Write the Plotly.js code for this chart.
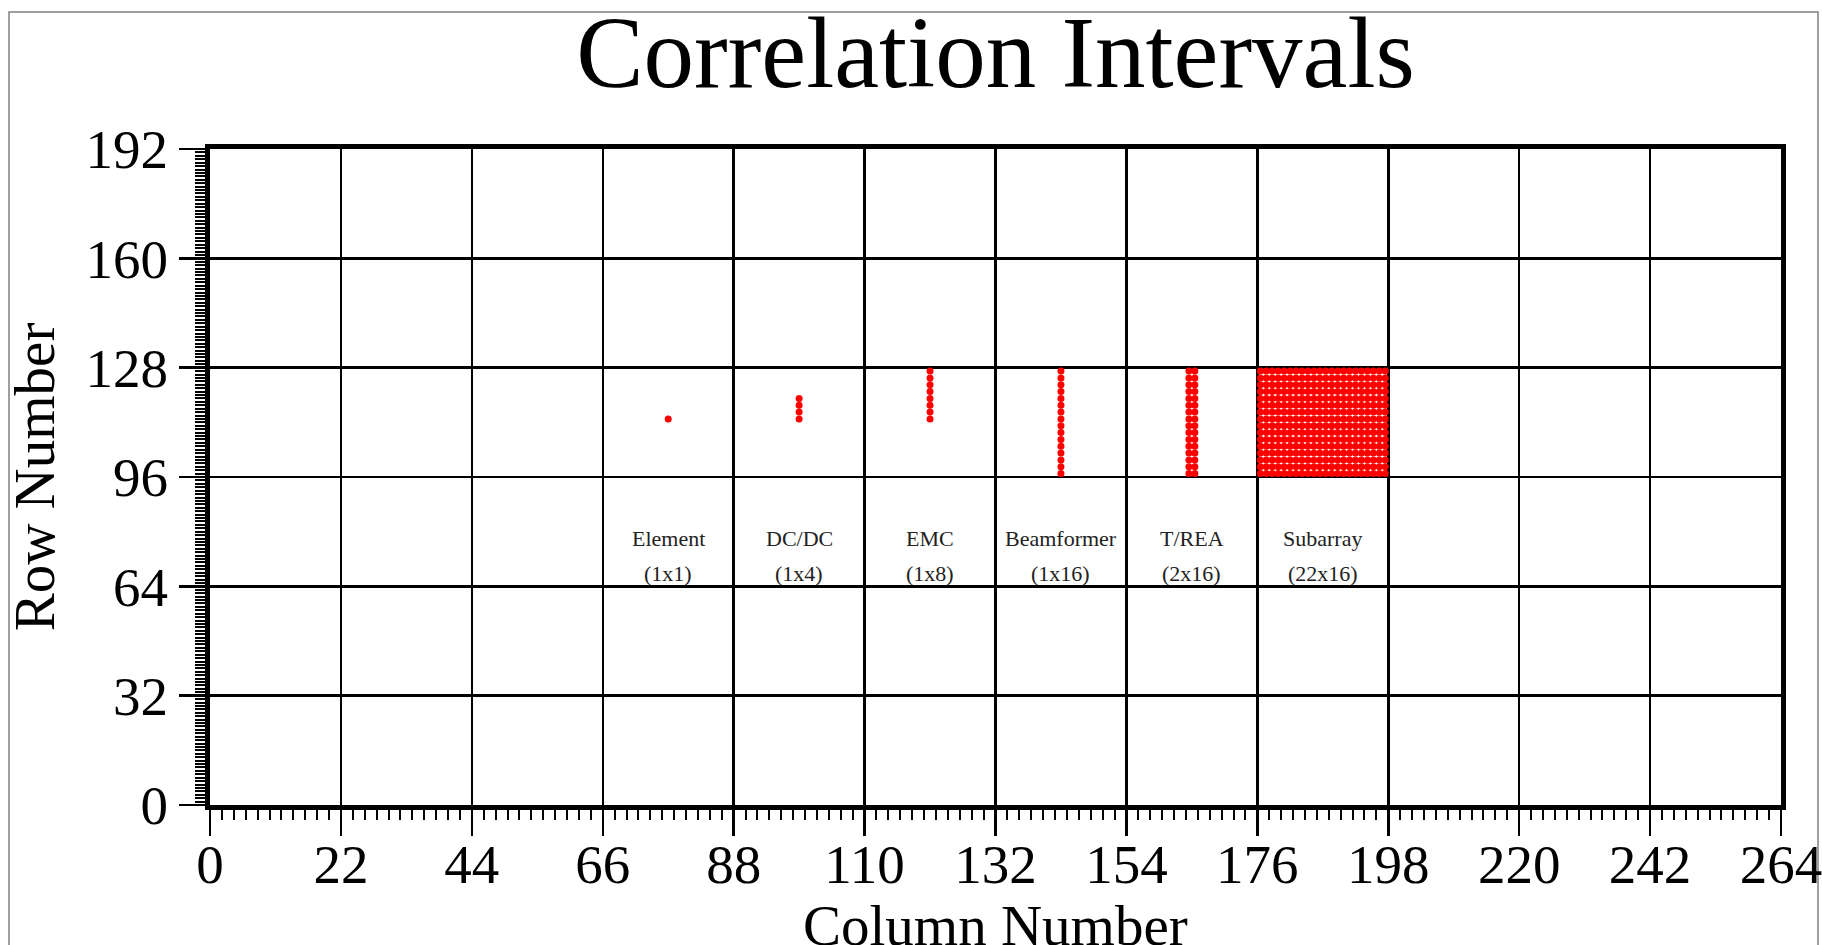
<!DOCTYPE html>
<html>
<head>
<meta charset="utf-8">
<script src="https://cdn.plot.ly/plotly-3.0.1.min.js"></script>
<style>
  html, body { margin: 0; padding: 0; background: #ffffff; overflow: hidden; }
  #chart { width: 1822px; height: 945px; }
</style>
</head>
<body>
<div id="chart"></div>
<script>
// ---- data ----
const groupNames = ['Element', 'DC/DC', 'EMC', 'Beamformer', 'T/REA', 'Subarray'];
const groupSizes = ['(1x1)', '(1x4)', '(1x8)', '(1x16)', '(2x16)', '(22x16)'];
const labelCols  = [77, 99, 121, 143, 165, 187];

const elementCols = [77];
const elementRows = [113];
const dcdcCols = [99];
const dcdcRows = [113, 115, 117, 119];
const emcCols = [121];
const emcRows = [113, 115, 117, 119, 121, 123, 125, 127];
const beamCols = [143];
const beamRows = [97, 99, 101, 103, 105, 107, 109, 111, 113, 115, 117, 119, 121, 123, 125, 127];
const treaCols = [164.5, 165.5];
const treaRows = [97, 99, 101, 103, 105, 107, 109, 111, 113, 115, 117, 119, 121, 123, 125, 127];
const subCols = [176.5, 177.5, 178.5, 179.5, 180.5, 181.5, 182.5, 183.5, 184.5, 185.5, 186.5,
                 187.5, 188.5, 189.5, 190.5, 191.5, 192.5, 193.5, 194.5, 195.5, 196.5, 197.5];
const subRows = [97, 99, 101, 103, 105, 107, 109, 111, 113, 115, 117, 119, 121, 123, 125, 127];

const xTicks = [0, 22, 44, 66, 88, 110, 132, 154, 176, 198, 220, 242, 264];
const yTicks = [0, 32, 64, 96, 128, 160, 192];

// ---- build traces from the arrays ----
const groups = [
  [elementCols, elementRows], [dcdcCols, dcdcRows], [emcCols, emcRows],
  [beamCols, beamRows], [treaCols, treaRows], [subCols, subRows]
];
const FONT = 'Liberation Serif, Times New Roman, serif';
const traces = groups.map(function (g, i) {
  const xs = [], ys = [];
  g[0].forEach(function (c) { g[1].forEach(function (r) { xs.push(c); ys.push(r); }); });
  return {
    type: 'scatter', mode: 'markers', name: groupNames[i],
    x: xs, y: ys, showlegend: false, hoverinfo: 'x+y+name',
    marker: { color: '#ff0000', size: 7, symbol: 'circle', line: { width: 0 } }
  };
});

const annotations = [];
groupNames.forEach(function (n, i) {
  annotations.push({ x: labelCols[i], y: 78, xref: 'x', yref: 'y', text: n, showarrow: false,
    font: { family: FONT, size: 22, color: '#222' }, xanchor: 'center', yanchor: 'middle' });
  annotations.push({ x: labelCols[i], y: 67.7, xref: 'x', yref: 'y', text: groupSizes[i], showarrow: false,
    font: { family: FONT, size: 22, color: '#222' }, xanchor: 'center', yanchor: 'middle' });
});
// x-axis title (placed as annotation so it can sit at the very bottom like the reference)
annotations.push({ x: 0.5, y: (805 - 925) / 656, xref: 'paper', yref: 'paper', text: 'Column Number',
  showarrow: false, font: { family: FONT, size: 57, color: '#000' }, xanchor: 'center', yanchor: 'middle' });

const axisCommon = {
  showgrid: true, gridcolor: '#000', gridwidth: 2.5,
  showline: true, linecolor: '#000', linewidth: 5, mirror: true,
  zeroline: false, ticks: 'outside', ticklen: 26, tickwidth: 2.5, tickcolor: '#000',
  tickfont: { family: FONT, size: 55, color: '#000' },
  ticklabeloverflow: 'allow',
  automargin: false, fixedrange: true
};

const layout = {
  width: 1822, height: 945,
  paper_bgcolor: '#ffffff', plot_bgcolor: '#ffffff',
  margin: { l: 210, r: 41, t: 149, b: 140 },
  title: { text: 'Correlation Intervals', font: { family: FONT, size: 101, color: '#000' },
           x: 0.5, xref: 'paper', y: 0.945, yref: 'container', yanchor: 'middle' },
  annotations: annotations,
  shapes: [{ type: 'rect', xref: 'paper', yref: 'paper',
             x0: (9 - 210) / 1571, x1: (1818 - 210) / 1571,
             y0: (805 - 960) / 656, y1: (805 - 12) / 656,
             line: { color: '#808080', width: 1.5 }, layer: 'below' }],
  xaxis: Object.assign({}, axisCommon, {
    range: [0, 264], tickmode: 'array', tickvals: xTicks, ticktext: xTicks.map(String),
    ticklabelstandoff: -19,
    minor: { tickmode: 'linear', tick0: 0, dtick: 2, ticks: 'outside', ticklen: 10, tickwidth: 2, tickcolor: '#000', showgrid: false }
  }),
  yaxis: Object.assign({}, axisCommon, {
    range: [0, 192], tickmode: 'array', tickvals: yTicks, ticktext: yTicks.map(String),
    title: { text: 'Row Number', font: { family: FONT, size: 57, color: '#000' }, standoff: 14 },
    minor: { tickmode: 'linear', tick0: 0, dtick: 1, ticks: 'outside', ticklen: 10, tickwidth: 2, tickcolor: '#000', showgrid: false }
  })
};

Plotly.newPlot('chart', traces, layout, { displayModeBar: false, staticPlot: true });
</script>
</body>
</html>
